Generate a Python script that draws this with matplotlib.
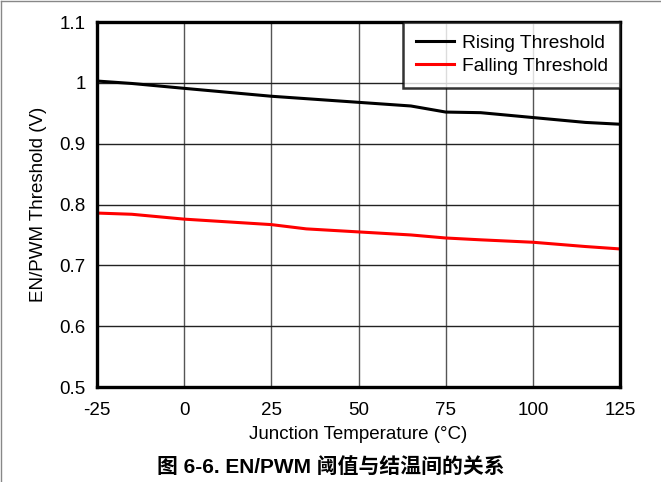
import matplotlib
matplotlib.use("Agg")
import matplotlib.pyplot as plt
from matplotlib.lines import Line2D

# Datos (temperatura de unión en °C, umbral en V)
temp_rising = [-25, -15, 0, 25, 50, 65, 75, 85, 100, 115, 125]
rising = [1.003, 0.999, 0.991, 0.978, 0.968, 0.962, 0.952, 0.951, 0.943, 0.935, 0.932]

temp_falling = [-25, -15, 0, 25, 35, 50, 65, 75, 85, 100, 115, 125]
falling = [0.786, 0.784, 0.776, 0.767, 0.760, 0.755, 0.750, 0.745, 0.742, 0.738, 0.731, 0.727]

x_ticks = [-25, 0, 25, 50, 75, 100, 125]
y_ticks = [0.5, 0.6, 0.7, 0.8, 0.9, 1.0, 1.1]
y_labels = ["0.5", "0.6", "0.7", "0.8", "0.9", "1", "1.1"]

plt.rcParams["font.family"] = ["Liberation Sans", "Noto Sans CJK SC", "DejaVu Sans"]
plt.rcParams["axes.unicode_minus"] = False

fig = plt.figure(figsize=(6.61, 4.82), dpi=100)
ax = fig.add_axes([0.1467, 0.197, 0.7915, 0.7573])

ax.plot(temp_rising, rising, color="black", lw=2.2, label="Rising Threshold", zorder=3)
ax.plot(temp_falling, falling, color="red", lw=2.2, label="Falling Threshold", zorder=3)

ax.set_xlim(-25, 125)
ax.set_ylim(0.5, 1.1)
ax.set_xticks(x_ticks)
ax.set_yticks(y_ticks)
ax.set_yticklabels(y_labels)
ax.tick_params(length=0, labelsize=13.5)
ax.tick_params(axis="x", pad=11)
ax.tick_params(axis="y", pad=8)
# rejilla: verticales grises, horizontales casi negras
ax.xaxis.grid(True, color="#555555", lw=1.0)
ax.yaxis.grid(True, color="#222222", lw=1.0)
ax.set_axisbelow(True)
for s in ax.spines.values():
    s.set_linewidth(2.4)
    s.set_zorder(4)

ax.set_xlabel("Junction Temperature (°C)", fontsize=13.5, labelpad=5)
ax.set_ylabel("EN/PWM Threshold (V)", fontsize=13.5, labelpad=9)

leg = ax.legend(loc="upper right", fontsize=13.8, frameon=True, fancybox=False,
                borderaxespad=0, handlelength=2.0, handletextpad=0.4,
                borderpad=0.65, labelspacing=0.3)
leg.get_frame().set_edgecolor("black")
leg.get_frame().set_linewidth(1.8)
leg.set_zorder(5)

fig.text(0.5, 0.032, "图 6-6. EN/PWM 阈值与结温间的关系", ha="center", va="center",
         fontsize=15, fontweight="bold")

# Marco gris exterior (izquierda y arriba)
fig.add_artist(Line2D([0.002, 0.002], [0, 0.998], transform=fig.transFigure, color="#888888", lw=1))
fig.add_artist(Line2D([0.002, 1.0], [0.998, 0.998], transform=fig.transFigure, color="#888888", lw=1))

fig.savefig("out.png", dpi=100)
